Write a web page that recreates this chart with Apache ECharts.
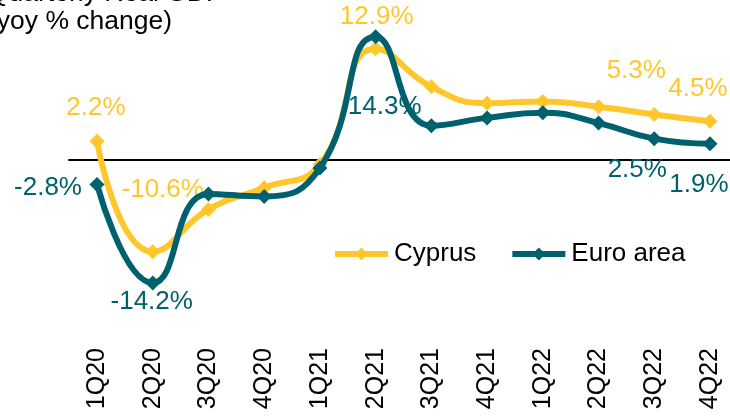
<!DOCTYPE html>
<html>
<head>
<meta charset="utf-8">
<script src="https://cdn.jsdelivr.net/npm/echarts@6/dist/echarts.min.js"></script>
<style>
  html, body { margin: 0; padding: 0; background: #fff; }
  #main { width: 730px; height: 416px; }
</style>
</head>
<body>
<div id="main"></div>
<script>
// quarters on the x axis
var quarters = ['1Q20', '2Q20', '3Q20', '4Q20', '1Q21', '2Q21', '3Q21', '4Q21', '1Q22', '2Q22', '3Q22', '4Q22']
// real GDP, yoy % change
var cyprus = [2.2, -10.6, -5.7, -3.2, -0.5, 12.9, 8.5, 6.6, 6.8, 6.2, 5.3, 4.5]
var euroArea = [-2.8, -14.2, -3.9, -4.2, -0.9, 14.3, 4.0, 4.9, 5.5, 4.3, 2.5, 1.9]

// which points carry a value label, and where it sits relative to the point
var cyprusLabelOffsets = { 0: [-1, -33], 1: [10, -62], 5: [1, -32], 10: [-18, -44], 11: [-12, -33] }
var euroLabelOffsets = { 0: [-49, 3], 1: [-1, 19], 5: [9, 70], 10: [-17, 31], 11: [-11, 41] }

var FONT = 'Liberation Sans, Arial, sans-serif'
var YELLOW = '#FFC72C'
var TEAL = '#00616E'
var Y_MIN = -20
var Y_MAX = 16

function withLabels (values, offsets, color) {
  return values.map(function (v, i) {
    if (!offsets[i]) return v
    return {
      value: v,
      label: {
        show: true,
        position: 'inside',
        offset: offsets[i],
        color: color,
        fontSize: 26,
        fontFamily: FONT,
        formatter: function (p) { return p.value.toFixed(1) + '%' }
      }
    }
  })
}

var chart = echarts.init(document.getElementById('main'))
var option = {
  backgroundColor: '#fff',
  animation: false,
  title: {
    text: 'Quarterly Real GDP\n(yoy % change)',
    left: -12,
    top: -20,
    padding: 0,
    textStyle: {
      color: '#000',
      fontSize: 26.5,
      fontWeight: 'normal',
      fontFamily: FONT,
      lineHeight: 28
    }
  },
  legend: {
    left: 332,
    top: 241,
    padding: 0,
    itemWidth: 53,
    itemHeight: 16,
    itemGap: 33,
    lineStyle: { width: 6 },
    textStyle: { color: '#000', fontSize: 26, fontFamily: FONT, padding: [0, 0, 0, 1] },
    data: ['Cyprus', 'Euro area']
  },
  // grid 0 holds the data, grid 1 only draws the wider zero line
  grid: [
    { left: 97, right: 20, top: 22, height: 311 },
    { left: 69, right: 0, top: 22, height: 311 }
  ],
  xAxis: [{
    type: 'category',
    gridIndex: 0,
    data: quarters,
    boundaryGap: false,
    axisLine: { show: false },
    axisTick: { show: false },
    axisLabel: {
      rotate: 90,
      margin: 15,
      color: '#000',
      fontSize: 25,
      fontFamily: FONT,
      interval: 0
    }
  }, {
    type: 'value',
    gridIndex: 1,
    min: 0,
    max: 1,
    axisLine: { show: true, onZero: true, lineStyle: { color: '#000', width: 2 } },
    axisTick: { show: false },
    axisLabel: { show: false },
    splitLine: { show: false },
    z: 0
  }],
  yAxis: [{
    type: 'value',
    gridIndex: 0,
    min: Y_MIN,
    max: Y_MAX,
    show: false
  }, {
    type: 'value',
    gridIndex: 1,
    min: Y_MIN,
    max: Y_MAX,
    axisLine: { show: false },
    axisTick: { show: false },
    axisLabel: { show: false },
    splitLine: { show: false }
  }],
  series: [{
    name: 'Cyprus',
    type: 'line',
    smooth: true,
    symbol: 'diamond',
    symbolSize: 15,
    z: 2,
    lineStyle: { width: 6, color: YELLOW },
    itemStyle: { color: YELLOW },
    data: withLabels(cyprus, cyprusLabelOffsets, YELLOW)
  }, {
    name: 'Euro area',
    type: 'line',
    smooth: true,
    symbol: 'diamond',
    symbolSize: 15,
    z: 3,
    lineStyle: { width: 6, color: TEAL },
    itemStyle: { color: TEAL },
    data: withLabels(euroArea, euroLabelOffsets, TEAL)
  }]
}
option && chart.setOption(option)
</script>
</body>
</html>
